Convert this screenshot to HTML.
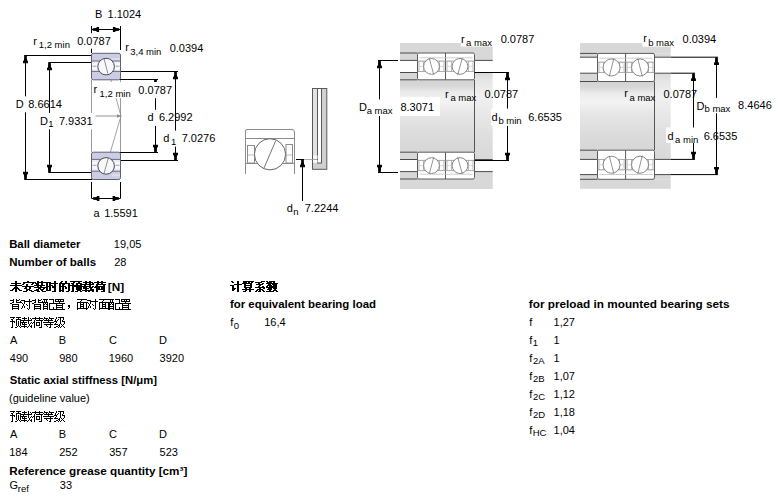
<!DOCTYPE html>
<html><head><meta charset="utf-8"><title>bearing</title>
<style>
html,body{margin:0;padding:0;background:#fff;width:781px;height:502px;overflow:hidden}
svg{display:block;font-family:"Liberation Sans",sans-serif}
</style></head><body>
<svg width="781" height="502" viewBox="0 0 781 502">
<line x1="91.5" y1="26" x2="91.5" y2="53" stroke="#000" stroke-width="1"/>
<line x1="120.5" y1="26" x2="120.5" y2="50" stroke="#000" stroke-width="1"/>
<line x1="91.5" y1="29.5" x2="120.5" y2="29.5" stroke="#000" stroke-width="1"/>
<polygon points="92.80,28.20 92.80,30.80 96.40,31.00 96.70,31.95 99.10,31.95 99.10,27.05 96.70,27.05 96.40,28.00" fill="#000"/>
<polygon points="119.20,28.20 119.20,30.80 115.60,31.00 115.30,31.95 112.90,31.95 112.90,27.05 115.30,27.05 115.60,28.00" fill="#000"/>
<line x1="24.2" y1="55.5" x2="92" y2="55.5" stroke="#000" stroke-width="1"/>
<line x1="24.2" y1="179.5" x2="92" y2="179.5" stroke="#000" stroke-width="1"/>
<line x1="48.3" y1="62.5" x2="92" y2="62.5" stroke="#000" stroke-width="1"/>
<line x1="48.3" y1="172.5" x2="92" y2="172.5" stroke="#000" stroke-width="1"/>
<line x1="120" y1="71.5" x2="178" y2="71.5" stroke="#000" stroke-width="1"/>
<line x1="120" y1="79.5" x2="158" y2="79.5" stroke="#000" stroke-width="1"/>
<line x1="120" y1="152.5" x2="158" y2="152.5" stroke="#000" stroke-width="1"/>
<line x1="120" y1="160.5" x2="178" y2="160.5" stroke="#000" stroke-width="1"/>
<line x1="91.5" y1="80" x2="91.5" y2="152" stroke="#9a9a9a" stroke-width="1"/>
<line x1="120.5" y1="80" x2="120.5" y2="152" stroke="#9a9a9a" stroke-width="1"/>
<line x1="104.5" y1="57" x2="121" y2="116" stroke="#8a8a8a" stroke-width="0.8"/>
<line x1="121" y1="116" x2="103.3" y2="176" stroke="#8a8a8a" stroke-width="0.8"/>
<line x1="95.5" y1="116" x2="120" y2="116" stroke="#8a8a8a" stroke-width="0.9"/>
<polygon points="121.5,116 117,114.3 117,117.7" fill="#8a8a8a"/>
<rect x="91.5" y="53.3" width="29.0" height="26.5" rx="1.8" fill="#cbcee3" stroke="#5e6172" stroke-width="1"/>
<rect x="92.0" y="61.0" width="28.0" height="10.400000000000006" fill="#e9ebf3" stroke="none" stroke-width="1"/>
<rect x="92.0" y="62.7" width="5.5" height="7" fill="#f8f8fb" stroke="none" stroke-width="1"/>
<rect x="114.5" y="62.7" width="5.5" height="7" fill="#f8f8fb" stroke="none" stroke-width="1"/>
<line x1="92.5" y1="66.2" x2="96.5" y2="66.2" stroke="#8a8c9c" stroke-width="0.8"/>
<line x1="115.5" y1="66.2" x2="119.5" y2="66.2" stroke="#8a8c9c" stroke-width="0.8"/>
<rect x="111.5" y="58.099999999999994" width="8.5" height="2.4000000000000057" fill="#dcdeec" stroke="none" stroke-width="1"/>
<line x1="91.5" y1="61.0" x2="120.5" y2="61.0" stroke="#5e6172" stroke-width="0.9"/>
<line x1="91.5" y1="71.4" x2="120.5" y2="71.4" stroke="#5e6172" stroke-width="0.9"/>
<circle cx="106.1" cy="66.6" r="8.3" fill="#f8f8fa" stroke="#4a4a55" stroke-width="1"/>
<line x1="104.1" y1="59.0" x2="107.9" y2="73.5" stroke="#777" stroke-width="0.8"/>
<rect x="91.5" y="152.2" width="29.0" height="27.30000000000001" rx="1.8" fill="#cbcee3" stroke="#5e6172" stroke-width="1"/>
<rect x="92.0" y="159.4" width="28.0" height="11.799999999999983" fill="#e9ebf3" stroke="none" stroke-width="1"/>
<rect x="92.0" y="161.8" width="5.5" height="7" fill="#f8f8fb" stroke="none" stroke-width="1"/>
<rect x="114.5" y="161.8" width="5.5" height="7" fill="#f8f8fb" stroke="none" stroke-width="1"/>
<line x1="92.5" y1="165.3" x2="96.5" y2="165.3" stroke="#8a8c9c" stroke-width="0.8"/>
<line x1="115.5" y1="165.3" x2="119.5" y2="165.3" stroke="#8a8c9c" stroke-width="0.8"/>
<rect x="111.5" y="174.1" width="8.5" height="2.4000000000000057" fill="#dcdeec" stroke="none" stroke-width="1"/>
<line x1="91.5" y1="159.4" x2="120.5" y2="159.4" stroke="#5e6172" stroke-width="0.9"/>
<line x1="91.5" y1="171.2" x2="120.5" y2="171.2" stroke="#5e6172" stroke-width="0.9"/>
<circle cx="106.1" cy="165.9" r="8.3" fill="#f8f8fa" stroke="#4a4a55" stroke-width="1"/>
<line x1="108.3" y1="158.0" x2="104.0" y2="173.5" stroke="#777" stroke-width="0.8"/>
<line x1="25.5" y1="55.5" x2="25.5" y2="179.5" stroke="#000" stroke-width="1"/>
<polygon points="24.20,55.80 26.80,55.80 27.00,60.50 27.95,60.80 27.95,63.20 23.05,63.20 23.05,60.80 24.00,60.50" fill="#000"/>
<polygon points="24.20,179.20 26.80,179.20 27.00,174.50 27.95,174.20 27.95,171.80 23.05,171.80 23.05,174.20 24.00,174.50" fill="#000"/>
<line x1="155.5" y1="79.5" x2="155.5" y2="152.5" stroke="#000" stroke-width="1"/>
<polygon points="154.20,79.80 156.80,79.80 157.00,84.50 157.95,84.80 157.95,87.20 153.05,87.20 153.05,84.80 154.00,84.50" fill="#000"/>
<polygon points="154.20,152.20 156.80,152.20 157.00,147.50 157.95,147.20 157.95,144.80 153.05,144.80 153.05,147.20 154.00,147.50" fill="#000"/>
<rect x="32" y="33.2" width="80" height="15.5" fill="#fff" stroke="none" stroke-width="1"/>
<text x="33.17" y="44.70" font-size="11" fill="#000">r</text>
<text x="38.78" y="47.60" font-size="9.5" fill="#000">1,2 min</text>
<text x="77.17" y="44.60" font-size="11" fill="#000">0.0787</text>
<rect x="15" y="96.3" width="48" height="16" fill="#fff" stroke="none" stroke-width="1"/>
<text x="15.80" y="107.80" font-size="11" fill="#000">D</text>
<text x="28.22" y="107.80" font-size="11" fill="#000">8.6614</text>
<line x1="49.5" y1="62.5" x2="49.5" y2="172.5" stroke="#000" stroke-width="1"/>
<polygon points="48.20,62.80 50.80,62.80 51.00,67.50 51.95,67.80 51.95,70.20 47.05,70.20 47.05,67.80 48.00,67.50" fill="#000"/>
<polygon points="48.20,172.20 50.80,172.20 51.00,167.50 51.95,167.20 51.95,164.80 47.05,164.80 47.05,167.20 48.00,167.50" fill="#000"/>
<rect x="39" y="113" width="54" height="16.3" fill="#fff" stroke="none" stroke-width="1"/>
<text x="40.10" y="124.60" font-size="11" fill="#000">D</text>
<text x="48.28" y="127.40" font-size="9.5" fill="#000">1</text>
<text x="58.94" y="124.60" font-size="11" fill="#000">7.9331</text>
<rect x="93" y="82" width="80" height="16.2" fill="#fff" stroke="none" stroke-width="1"/>
<text x="93.47" y="93.30" font-size="11" fill="#000">r</text>
<text x="99.58" y="96.70" font-size="9.5" fill="#000">1,2 min</text>
<text x="138.37" y="93.70" font-size="11" fill="#000">0.0787</text>
<rect x="146" y="109.8" width="48" height="16.2" fill="#fff" stroke="none" stroke-width="1"/>
<text x="147.54" y="121.40" font-size="11" fill="#000">d</text>
<text x="158.94" y="121.40" font-size="11" fill="#000">6.2992</text>
<line x1="175.5" y1="71.5" x2="175.5" y2="160.5" stroke="#000" stroke-width="1"/>
<polygon points="174.20,71.80 176.80,71.80 177.00,76.50 177.95,76.80 177.95,79.20 173.05,79.20 173.05,76.80 174.00,76.50" fill="#000"/>
<polygon points="174.20,160.20 176.80,160.20 177.00,155.50 177.95,155.20 177.95,152.80 173.05,152.80 173.05,155.20 174.00,155.50" fill="#000"/>
<rect x="162" y="130.6" width="55" height="16" fill="#fff" stroke="none" stroke-width="1"/>
<text x="163.34" y="142.10" font-size="11" fill="#000">d</text>
<text x="170.88" y="145.20" font-size="9.5" fill="#000">1</text>
<text x="181.64" y="142.10" font-size="11" fill="#000">7.0276</text>
<text x="125.17" y="51.10" font-size="11" fill="#000">r</text>
<text x="130.24" y="54.60" font-size="9.5" fill="#000">3,4 min</text>
<text x="169.67" y="51.50" font-size="11" fill="#000">0.0394</text>
<text x="95.10" y="17.80" font-size="11" fill="#000">B</text>
<text x="107.56" y="17.80" font-size="11" fill="#000">1.1024</text>
<line x1="91.5" y1="182" x2="91.5" y2="198.5" stroke="#000" stroke-width="1"/>
<line x1="120.5" y1="182" x2="120.5" y2="198.5" stroke="#000" stroke-width="1"/>
<line x1="91.5" y1="198.5" x2="120.5" y2="198.5" stroke="#000" stroke-width="1"/>
<polygon points="93.10,197.20 93.10,199.80 96.70,200.00 97.00,200.95 99.40,200.95 99.40,196.05 97.00,196.05 96.70,197.00" fill="#000"/>
<polygon points="118.90,197.20 118.90,199.80 115.30,200.00 115.00,200.95 112.60,200.95 112.60,196.05 115.00,196.05 115.30,197.00" fill="#000"/>
<text x="93.53" y="216.70" font-size="11" fill="#000">a</text>
<text x="104.16" y="216.70" font-size="11" fill="#000">1.5591</text>
<path d="M245.5,174 V131 Q245.5,129.5 247,129.5 H292 Q294.5,129.5 294.5,132 V174" fill="none" stroke="#8c8c8c" stroke-width="1"/>
<line x1="245.5" y1="138.5" x2="294.5" y2="138.5" stroke="#8c8c8c" stroke-width="1"/>
<line x1="245.5" y1="163.5" x2="294.5" y2="163.5" stroke="#8c8c8c" stroke-width="1"/>
<rect x="247.5" y="145.5" width="7" height="17.5" fill="none" stroke="#8c8c8c" stroke-width="1"/>
<rect x="286" y="144.5" width="6.5" height="18.5" fill="none" stroke="#8c8c8c" stroke-width="1"/>
<line x1="247.5" y1="155" x2="254.5" y2="155" stroke="#aaa" stroke-width="0.8"/>
<line x1="286" y1="155" x2="292.5" y2="155" stroke="#aaa" stroke-width="0.8"/>
<circle cx="270" cy="154.3" r="15.6" fill="#fff" stroke="#666" stroke-width="1"/>
<line x1="275.8" y1="140.5" x2="264" y2="168" stroke="#666" stroke-width="0.9"/>
<rect x="312.5" y="88.5" width="14.3" height="80.8" fill="#d0d0d0" stroke="#5a5a5a" stroke-width="1"/>
<rect x="313" y="89" width="4.5" height="74" fill="#e2e2e2" stroke="none" stroke-width="1"/>
<rect x="317.5" y="88.5" width="4" height="74.5" fill="#fff" stroke="#5a5a5a" stroke-width="1"/>
<rect x="313" y="155.3" width="4.5" height="3.4" fill="#fbfbfb" stroke="none" stroke-width="1"/>
<rect x="313" y="159.8" width="4.5" height="2.8" fill="#fbfbfb" stroke="none" stroke-width="1"/>
<line x1="296" y1="159.5" x2="304" y2="159.5" stroke="#000" stroke-width="1"/>
<line x1="304" y1="159.5" x2="317" y2="159.5" stroke="#999" stroke-width="0.8"/>
<line x1="302.5" y1="159.5" x2="302.5" y2="201" stroke="#000" stroke-width="1"/>
<polygon points="301.20,159.80 303.80,159.80 304.00,164.50 304.95,164.80 304.95,167.20 300.05,167.20 300.05,164.80 301.00,164.50" fill="#000"/>
<text x="286.84" y="212.40" font-size="11" fill="#000">d</text>
<text x="293.17" y="215.30" font-size="9.5" fill="#000">n</text>
<text x="304.74" y="212.40" font-size="11" fill="#000">7.2244</text>
<defs>
<linearGradient id="shaft" x1="0" y1="0" x2="0" y2="1">
<stop offset="0" stop-color="#d3d3d3"/><stop offset="0.09" stop-color="#d8d8d8"/>
<stop offset="0.17" stop-color="#ebebeb"/><stop offset="0.3" stop-color="#f3f3f3"/>
<stop offset="0.48" stop-color="#e6e6e6"/><stop offset="0.75" stop-color="#dcdcdc"/><stop offset="1" stop-color="#d6d6d6"/>
</linearGradient>
<linearGradient id="shoulder" x1="0" y1="0" x2="0" y2="1">
<stop offset="0" stop-color="#dadada"/><stop offset="0.1" stop-color="#e6e6e6"/>
<stop offset="0.27" stop-color="#f1f1f1"/><stop offset="0.45" stop-color="#e9e9e9"/>
<stop offset="0.7" stop-color="#dfdfdf"/><stop offset="1" stop-color="#d8d8d8"/>
</linearGradient>
</defs>
<rect x="400" y="43" width="92.7" height="10" fill="#d9d8d9" stroke="none" stroke-width="1"/>
<rect x="400" y="179" width="92.7" height="10" fill="#d9d8d9" stroke="none" stroke-width="1"/>
<rect x="400" y="53" width="17.9" height="7.4" fill="#d9d8d9" stroke="none" stroke-width="1"/>
<rect x="400" y="171.6" width="17.9" height="7.4" fill="#d9d8d9" stroke="none" stroke-width="1"/>
<rect x="400" y="72.5" width="17.9" height="7.3" fill="#d9d8d9" stroke="none" stroke-width="1"/>
<rect x="400" y="152.2" width="17.9" height="7.3" fill="#d9d8d9" stroke="none" stroke-width="1"/>
<rect x="474.5" y="53" width="18.2" height="7.4" fill="#d9d8d9" stroke="none" stroke-width="1"/>
<rect x="474.5" y="171.6" width="18.2" height="7.4" fill="#d9d8d9" stroke="none" stroke-width="1"/>
<rect x="400" y="79.8" width="74.5" height="72.4" fill="url(#shaft)" stroke="none" stroke-width="1"/>
<rect x="474.5" y="72.5" width="18.2" height="87" fill="url(#shoulder)" stroke="none" stroke-width="1"/>
<line x1="400" y1="53" x2="417.5" y2="53" stroke="#4a4a4a" stroke-width="1"/>
<line x1="400" y1="179.0" x2="417.5" y2="179.0" stroke="#4a4a4a" stroke-width="1"/>
<line x1="400" y1="60.4" x2="417.5" y2="60.4" stroke="#4a4a4a" stroke-width="1"/>
<line x1="400" y1="171.6" x2="417.5" y2="171.6" stroke="#4a4a4a" stroke-width="1"/>
<line x1="400" y1="72.5" x2="417.5" y2="72.5" stroke="#4a4a4a" stroke-width="1"/>
<line x1="400" y1="159.5" x2="417.5" y2="159.5" stroke="#4a4a4a" stroke-width="1"/>
<line x1="400" y1="79.8" x2="417.5" y2="79.8" stroke="#4a4a4a" stroke-width="1"/>
<line x1="400" y1="152.2" x2="417.5" y2="152.2" stroke="#4a4a4a" stroke-width="1"/>
<line x1="474.5" y1="60.4" x2="492.7" y2="60.4" stroke="#4a4a4a" stroke-width="1"/>
<line x1="474.5" y1="171.6" x2="492.7" y2="171.6" stroke="#4a4a4a" stroke-width="1"/>
<line x1="474.5" y1="72.5" x2="492.7" y2="72.5" stroke="#4a4a4a" stroke-width="1"/>
<line x1="474.5" y1="159.5" x2="492.7" y2="159.5" stroke="#4a4a4a" stroke-width="1"/>
<line x1="474.5" y1="79.8" x2="474.5" y2="152.2" stroke="#555" stroke-width="1"/>
<rect x="417.5" y="53" width="57.0" height="26.799999999999997" rx="1.5" fill="#fff" stroke="#5a5a5a" stroke-width="1"/>
<line x1="445.5" y1="53" x2="445.5" y2="79.8" stroke="#5a5a5a" stroke-width="1"/>
<line x1="419.5" y1="57.8" x2="472.5" y2="57.8" stroke="#c4c4c4" stroke-width="0.8"/>
<line x1="417.5" y1="61.2" x2="474.5" y2="61.2" stroke="#9a9a9a" stroke-width="0.9"/>
<line x1="417.5" y1="71.4" x2="474.5" y2="71.4" stroke="#9a9a9a" stroke-width="0.9"/>
<rect x="419.0" y="61.2" width="4.5" height="10.200000000000003" fill="#fff" stroke="#a8a8a8" stroke-width="0.8"/>
<line x1="419.0" y1="66.4" x2="423.5" y2="66.4" stroke="#c8c8c8" stroke-width="0.7"/>
<rect x="439.5" y="61.2" width="4.5" height="10.200000000000003" fill="#fff" stroke="#a8a8a8" stroke-width="0.8"/>
<line x1="439.5" y1="66.4" x2="444.0" y2="66.4" stroke="#c8c8c8" stroke-width="0.7"/>
<circle cx="431.50" cy="66.40" r="7.9" fill="#fff" stroke="#7a7a7a" stroke-width="0.9"/>
<line x1="429.2" y1="58.00000000000001" x2="433.8" y2="74.80000000000001" stroke="#7a7a7a" stroke-width="0.8"/>
<rect x="447.0" y="61.2" width="4.5" height="10.200000000000003" fill="#fff" stroke="#a8a8a8" stroke-width="0.8"/>
<line x1="447.0" y1="66.4" x2="451.5" y2="66.4" stroke="#c8c8c8" stroke-width="0.7"/>
<rect x="468.5" y="61.2" width="4.5" height="10.200000000000003" fill="#fff" stroke="#a8a8a8" stroke-width="0.8"/>
<line x1="468.5" y1="66.4" x2="473.0" y2="66.4" stroke="#c8c8c8" stroke-width="0.7"/>
<circle cx="460.00" cy="66.40" r="7.9" fill="#fff" stroke="#7a7a7a" stroke-width="0.9"/>
<line x1="462.3" y1="58.00000000000001" x2="457.7" y2="74.80000000000001" stroke="#7a7a7a" stroke-width="0.8"/>
<rect x="417.5" y="152.2" width="57.0" height="26.80000000000001" rx="1.5" fill="#fff" stroke="#5a5a5a" stroke-width="1"/>
<line x1="445.5" y1="152.2" x2="445.5" y2="179" stroke="#5a5a5a" stroke-width="1"/>
<line x1="419.5" y1="174.2" x2="472.5" y2="174.2" stroke="#c4c4c4" stroke-width="0.8"/>
<line x1="417.5" y1="160.4" x2="474.5" y2="160.4" stroke="#9a9a9a" stroke-width="0.9"/>
<line x1="417.5" y1="170.6" x2="474.5" y2="170.6" stroke="#9a9a9a" stroke-width="0.9"/>
<rect x="419.0" y="160.4" width="4.5" height="10.199999999999989" fill="#fff" stroke="#a8a8a8" stroke-width="0.8"/>
<line x1="419.0" y1="165.6" x2="423.5" y2="165.6" stroke="#c8c8c8" stroke-width="0.7"/>
<rect x="439.5" y="160.4" width="4.5" height="10.199999999999989" fill="#fff" stroke="#a8a8a8" stroke-width="0.8"/>
<line x1="439.5" y1="165.6" x2="444.0" y2="165.6" stroke="#c8c8c8" stroke-width="0.7"/>
<circle cx="431.50" cy="165.60" r="7.9" fill="#fff" stroke="#7a7a7a" stroke-width="0.9"/>
<line x1="433.8" y1="157.2" x2="429.2" y2="174.0" stroke="#7a7a7a" stroke-width="0.8"/>
<rect x="447.0" y="160.4" width="4.5" height="10.199999999999989" fill="#fff" stroke="#a8a8a8" stroke-width="0.8"/>
<line x1="447.0" y1="165.6" x2="451.5" y2="165.6" stroke="#c8c8c8" stroke-width="0.7"/>
<rect x="468.5" y="160.4" width="4.5" height="10.199999999999989" fill="#fff" stroke="#a8a8a8" stroke-width="0.8"/>
<line x1="468.5" y1="165.6" x2="473.0" y2="165.6" stroke="#c8c8c8" stroke-width="0.7"/>
<circle cx="460.00" cy="165.60" r="7.9" fill="#fff" stroke="#7a7a7a" stroke-width="0.9"/>
<line x1="457.7" y1="157.2" x2="462.3" y2="174.0" stroke="#7a7a7a" stroke-width="0.8"/>
<line x1="378" y1="60.5" x2="398" y2="60.5" stroke="#000" stroke-width="1"/>
<line x1="378" y1="172.5" x2="398" y2="172.5" stroke="#000" stroke-width="1"/>
<line x1="379.5" y1="60.5" x2="379.5" y2="172.5" stroke="#000" stroke-width="1"/>
<polygon points="378.20,60.80 380.80,60.80 381.00,65.50 381.95,65.80 381.95,68.20 377.05,68.20 377.05,65.80 378.00,65.50" fill="#000"/>
<polygon points="378.20,172.20 380.80,172.20 381.00,167.50 381.95,167.20 381.95,164.80 377.05,164.80 377.05,167.20 378.00,167.50" fill="#000"/>
<rect x="356" y="99.4" width="44" height="16.6" fill="#fff" stroke="none" stroke-width="1"/>
<rect x="400" y="97" width="40" height="19" fill="#fff" stroke="none" stroke-width="1"/>
<text x="358.90" y="111.10" font-size="11" fill="#000">D</text>
<text x="366.70" y="114.40" font-size="9.5" fill="#000">a max</text>
<text x="400.42" y="111.10" font-size="11" fill="#000">8.3071</text>
<line x1="474.5" y1="72.5" x2="509" y2="72.5" stroke="#000" stroke-width="1"/>
<line x1="474.5" y1="160.5" x2="509" y2="160.5" stroke="#000" stroke-width="1"/>
<text x="445.07" y="97.50" font-size="11" fill="#000">r</text>
<text x="450.40" y="100.80" font-size="9.5" fill="#000">a max</text>
<text x="484.57" y="97.80" font-size="11" fill="#000">0.0787</text>
<line x1="507.5" y1="72.5" x2="507.5" y2="160.5" stroke="#000" stroke-width="1"/>
<polygon points="506.20,72.80 508.80,72.80 509.00,77.50 509.95,77.80 509.95,80.20 505.05,80.20 505.05,77.80 506.00,77.50" fill="#000"/>
<polygon points="506.20,160.20 508.80,160.20 509.00,155.50 509.95,155.20 509.95,152.80 505.05,152.80 505.05,155.20 506.00,155.50" fill="#000"/>
<rect x="491" y="108.6" width="75" height="17.3" fill="#fff" stroke="none" stroke-width="1"/>
<text x="491.44" y="120.50" font-size="11" fill="#000">d</text>
<text x="498.39" y="123.60" font-size="9.5" fill="#000">b min</text>
<text x="528.24" y="120.70" font-size="11" fill="#000">6.6535</text>
<rect x="460.8" y="32" width="31.9" height="14.5" fill="#fff" stroke="none" stroke-width="1"/>
<text x="460.97" y="42.70" font-size="11" fill="#000">r</text>
<text x="466.10" y="45.50" font-size="9.5" fill="#000">a max</text>
<text x="500.67" y="43.00" font-size="11" fill="#000">0.0787</text>
<rect x="580" y="43.1" width="90.7" height="10.3" fill="#d9d8d9" stroke="none" stroke-width="1"/>
<rect x="580" y="179.3" width="90.7" height="9.5" fill="#d9d8d9" stroke="none" stroke-width="1"/>
<rect x="580" y="53.4" width="17.5" height="3.8" fill="#d9d8d9" stroke="none" stroke-width="1"/>
<rect x="580" y="174.6" width="17.5" height="4.7" fill="#d9d8d9" stroke="none" stroke-width="1"/>
<rect x="580" y="73.2" width="17.5" height="8.3" fill="#d9d8d9" stroke="none" stroke-width="1"/>
<rect x="580" y="150.2" width="17.5" height="9.2" fill="#d9d8d9" stroke="none" stroke-width="1"/>
<rect x="654.5" y="53.4" width="16.2" height="3.8" fill="#d9d8d9" stroke="none" stroke-width="1"/>
<rect x="654.5" y="174.6" width="16.2" height="4.7" fill="#d9d8d9" stroke="none" stroke-width="1"/>
<rect x="580" y="81.5" width="74.5" height="68.69999999999999" fill="url(#shaft)" stroke="none" stroke-width="1"/>
<rect x="654.5" y="73.2" width="16.2" height="86.2" fill="url(#shoulder)" stroke="none" stroke-width="1"/>
<line x1="580" y1="53.4" x2="597.5" y2="53.4" stroke="#4a4a4a" stroke-width="1"/>
<line x1="580" y1="179.3" x2="597.5" y2="179.3" stroke="#4a4a4a" stroke-width="1"/>
<line x1="580" y1="57.2" x2="597.5" y2="57.2" stroke="#4a4a4a" stroke-width="1"/>
<line x1="580" y1="174.6" x2="597.5" y2="174.6" stroke="#4a4a4a" stroke-width="1"/>
<line x1="580" y1="73.2" x2="597.5" y2="73.2" stroke="#4a4a4a" stroke-width="1"/>
<line x1="580" y1="159.4" x2="597.5" y2="159.4" stroke="#4a4a4a" stroke-width="1"/>
<line x1="580" y1="81.5" x2="597.5" y2="81.5" stroke="#4a4a4a" stroke-width="1"/>
<line x1="580" y1="150.2" x2="597.5" y2="150.2" stroke="#4a4a4a" stroke-width="1"/>
<line x1="654.5" y1="57.2" x2="670.7" y2="57.2" stroke="#4a4a4a" stroke-width="1"/>
<line x1="654.5" y1="174.6" x2="670.7" y2="174.6" stroke="#4a4a4a" stroke-width="1"/>
<line x1="654.5" y1="73.2" x2="670.7" y2="73.2" stroke="#4a4a4a" stroke-width="1"/>
<line x1="654.5" y1="159.4" x2="670.7" y2="159.4" stroke="#4a4a4a" stroke-width="1"/>
<line x1="654.5" y1="81.5" x2="654.5" y2="150.2" stroke="#555" stroke-width="1"/>
<rect x="597.5" y="53.4" width="57.0" height="28.1" rx="1.5" fill="#fff" stroke="#5a5a5a" stroke-width="1"/>
<line x1="625.6" y1="53.4" x2="625.6" y2="81.5" stroke="#5a5a5a" stroke-width="1"/>
<line x1="599.5" y1="58.199999999999996" x2="652.5" y2="58.199999999999996" stroke="#c4c4c4" stroke-width="0.8"/>
<line x1="597.5" y1="62.25" x2="654.5" y2="62.25" stroke="#9a9a9a" stroke-width="0.9"/>
<line x1="597.5" y1="72.45" x2="654.5" y2="72.45" stroke="#9a9a9a" stroke-width="0.9"/>
<rect x="599.0" y="62.25" width="4.5" height="10.200000000000003" fill="#fff" stroke="#a8a8a8" stroke-width="0.8"/>
<line x1="599.0" y1="67.45" x2="603.5" y2="67.45" stroke="#c8c8c8" stroke-width="0.7"/>
<rect x="619.6" y="62.25" width="4.5" height="10.200000000000003" fill="#fff" stroke="#a8a8a8" stroke-width="0.8"/>
<line x1="619.6" y1="67.45" x2="624.1" y2="67.45" stroke="#c8c8c8" stroke-width="0.7"/>
<circle cx="611.55" cy="67.45" r="8.5" fill="#fff" stroke="#7a7a7a" stroke-width="0.9"/>
<line x1="613.8499999999999" y1="58.45" x2="609.25" y2="76.45" stroke="#7a7a7a" stroke-width="0.8"/>
<rect x="627.1" y="62.25" width="4.5" height="10.200000000000003" fill="#fff" stroke="#a8a8a8" stroke-width="0.8"/>
<line x1="627.1" y1="67.45" x2="631.6" y2="67.45" stroke="#c8c8c8" stroke-width="0.7"/>
<rect x="648.5" y="62.25" width="4.5" height="10.200000000000003" fill="#fff" stroke="#a8a8a8" stroke-width="0.8"/>
<line x1="648.5" y1="67.45" x2="653.0" y2="67.45" stroke="#c8c8c8" stroke-width="0.7"/>
<circle cx="640.05" cy="67.45" r="8.5" fill="#fff" stroke="#7a7a7a" stroke-width="0.9"/>
<line x1="637.75" y1="58.45" x2="642.3499999999999" y2="76.45" stroke="#7a7a7a" stroke-width="0.8"/>
<rect x="597.5" y="150.2" width="57.0" height="29.100000000000023" rx="1.5" fill="#fff" stroke="#5a5a5a" stroke-width="1"/>
<line x1="625.6" y1="150.2" x2="625.6" y2="179.3" stroke="#5a5a5a" stroke-width="1"/>
<line x1="599.5" y1="174.5" x2="652.5" y2="174.5" stroke="#c4c4c4" stroke-width="0.8"/>
<line x1="597.5" y1="159.55" x2="654.5" y2="159.55" stroke="#9a9a9a" stroke-width="0.9"/>
<line x1="597.5" y1="169.75" x2="654.5" y2="169.75" stroke="#9a9a9a" stroke-width="0.9"/>
<rect x="599.0" y="159.55" width="4.5" height="10.199999999999989" fill="#fff" stroke="#a8a8a8" stroke-width="0.8"/>
<line x1="599.0" y1="164.75" x2="603.5" y2="164.75" stroke="#c8c8c8" stroke-width="0.7"/>
<rect x="619.6" y="159.55" width="4.5" height="10.199999999999989" fill="#fff" stroke="#a8a8a8" stroke-width="0.8"/>
<line x1="619.6" y1="164.75" x2="624.1" y2="164.75" stroke="#c8c8c8" stroke-width="0.7"/>
<circle cx="611.55" cy="164.75" r="8.5" fill="#fff" stroke="#7a7a7a" stroke-width="0.9"/>
<line x1="609.25" y1="155.75" x2="613.8499999999999" y2="173.75" stroke="#7a7a7a" stroke-width="0.8"/>
<rect x="627.1" y="159.55" width="4.5" height="10.199999999999989" fill="#fff" stroke="#a8a8a8" stroke-width="0.8"/>
<line x1="627.1" y1="164.75" x2="631.6" y2="164.75" stroke="#c8c8c8" stroke-width="0.7"/>
<rect x="648.5" y="159.55" width="4.5" height="10.199999999999989" fill="#fff" stroke="#a8a8a8" stroke-width="0.8"/>
<line x1="648.5" y1="164.75" x2="653.0" y2="164.75" stroke="#c8c8c8" stroke-width="0.7"/>
<circle cx="640.05" cy="164.75" r="8.5" fill="#fff" stroke="#7a7a7a" stroke-width="0.9"/>
<line x1="642.3499999999999" y1="155.75" x2="637.75" y2="173.75" stroke="#7a7a7a" stroke-width="0.8"/>
<line x1="670.7" y1="57.2" x2="718" y2="57.2" stroke="#000" stroke-width="1"/>
<line x1="670.7" y1="174.6" x2="718" y2="174.6" stroke="#000" stroke-width="1"/>
<line x1="670.7" y1="73.2" x2="695" y2="73.2" stroke="#000" stroke-width="1"/>
<line x1="670.7" y1="159.4" x2="695" y2="159.4" stroke="#000" stroke-width="1"/>
<line x1="693.5" y1="73.2" x2="693.5" y2="159.4" stroke="#000" stroke-width="1"/>
<polygon points="692.20,73.50 694.80,73.50 695.00,78.20 695.95,78.50 695.95,80.90 691.05,80.90 691.05,78.50 692.00,78.20" fill="#000"/>
<polygon points="692.20,159.10 694.80,159.10 695.00,154.40 695.95,154.10 695.95,151.70 691.05,151.70 691.05,154.10 692.00,154.40" fill="#000"/>
<text x="624.27" y="97.00" font-size="11" fill="#000">r</text>
<text x="629.50" y="100.60" font-size="9.5" fill="#000">a max</text>
<text x="663.47" y="97.60" font-size="11" fill="#000">0.0787</text>
<line x1="716.5" y1="57.2" x2="716.5" y2="174.6" stroke="#000" stroke-width="1"/>
<polygon points="715.20,57.50 717.80,57.50 718.00,62.20 718.95,62.50 718.95,64.90 714.05,64.90 714.05,62.50 715.00,62.20" fill="#000"/>
<polygon points="715.20,174.30 717.80,174.30 718.00,169.60 718.95,169.30 718.95,166.90 714.05,166.90 714.05,169.30 715.00,169.60" fill="#000"/>
<rect x="696" y="97.9" width="78" height="15.3" fill="#fff" stroke="none" stroke-width="1"/>
<text x="696.50" y="109.60" font-size="11" fill="#000">D</text>
<text x="704.49" y="112.30" font-size="9.5" fill="#000">b max</text>
<text x="738.12" y="109.30" font-size="11" fill="#000">8.4646</text>
<rect x="666" y="127.5" width="35" height="15.5" fill="#fff" stroke="none" stroke-width="1"/>
<text x="667.54" y="139.70" font-size="11" fill="#000">d</text>
<text x="675.10" y="142.80" font-size="9.5" fill="#000">a min</text>
<text x="703.64" y="139.70" font-size="11" fill="#000">6.6535</text>
<rect x="642.3" y="40" width="28.5" height="6.6" fill="#fff" stroke="none" stroke-width="1"/>
<text x="643.27" y="42.40" font-size="11" fill="#000">r</text>
<text x="648.19" y="45.60" font-size="9.5" fill="#000">b max</text>
<text x="682.57" y="42.70" font-size="11" fill="#000">0.0394</text>
<text x="9.16" y="247.80" font-size="11" font-weight="bold" textLength="71.30" lengthAdjust="spacingAndGlyphs" fill="#000">Ball diameter</text>
<text x="113.86" y="247.80" font-size="11" fill="#000">19,05</text>
<text x="9.16" y="265.70" font-size="11" font-weight="bold" textLength="86.89" lengthAdjust="spacingAndGlyphs" fill="#000">Number of balls</text>
<text x="114.15" y="265.70" font-size="11" fill="#000">28</text>
<text x="107.78" y="290.50" font-size="11" font-weight="bold" textLength="16.34" lengthAdjust="spacingAndGlyphs" fill="#000">[N]</text>
<text x="10.08" y="344.10" font-size="11" fill="#000">A</text>
<text x="58.80" y="344.10" font-size="11" fill="#000">B</text>
<text x="109.04" y="344.10" font-size="11" fill="#000">C</text>
<text x="159.10" y="344.10" font-size="11" fill="#000">D</text>
<text x="9.85" y="361.50" font-size="11" fill="#000">490</text>
<text x="59.18" y="361.50" font-size="11" fill="#000">980</text>
<text x="108.76" y="361.50" font-size="11" fill="#000">1960</text>
<text x="159.58" y="361.50" font-size="11" fill="#000">3920</text>
<text x="9.68" y="384.30" font-size="11" font-weight="bold" textLength="147.33" lengthAdjust="spacingAndGlyphs" fill="#000">Static axial stiffness [N/&#956;m]</text>
<text x="9.02" y="401.50" font-size="11" fill="#000">(guideline value)</text>
<text x="10.08" y="438.10" font-size="11" fill="#000">A</text>
<text x="58.80" y="438.10" font-size="11" fill="#000">B</text>
<text x="109.04" y="438.10" font-size="11" fill="#000">C</text>
<text x="159.10" y="438.10" font-size="11" fill="#000">D</text>
<text x="9.26" y="455.70" font-size="11" fill="#000">184</text>
<text x="59.15" y="455.70" font-size="11" fill="#000">252</text>
<text x="109.18" y="455.70" font-size="11" fill="#000">357</text>
<text x="159.56" y="455.70" font-size="11" fill="#000">523</text>
<text x="9.26" y="474.90" font-size="11" font-weight="bold" textLength="178.05" lengthAdjust="spacingAndGlyphs" fill="#000">Reference grease quantity [cm&#179;]</text>
<text x="9.45" y="489.00" font-size="11" fill="#000">G</text>
<text x="17.87" y="491.60" font-size="9.5" fill="#000">ref</text>
<text x="59.78" y="489.00" font-size="11" fill="#000">33</text>
<text x="229.91" y="307.80" font-size="11" font-weight="bold" textLength="146.11" lengthAdjust="spacingAndGlyphs" fill="#000">for equivalent bearing load</text>
<text x="230.34" y="326.20" font-size="11" fill="#000">f</text>
<text x="233.83" y="328.90" font-size="9.5" fill="#000">0</text>
<text x="264.16" y="326.20" font-size="11" fill="#000">16,4</text>
<text x="528.81" y="307.60" font-size="11" font-weight="bold" textLength="200.74" lengthAdjust="spacingAndGlyphs" fill="#000">for preload in mounted bearing sets</text>
<text x="529.34" y="325.60" font-size="11" fill="#000">f</text>
<text x="553.56" y="325.60" font-size="11" fill="#000">1,27</text>
<text x="529.34" y="343.60" font-size="11" fill="#000">f</text>
<text x="532.78" y="346.40" font-size="9.5" fill="#000">1</text>
<text x="553.56" y="343.60" font-size="11" fill="#000">1</text>
<text x="529.34" y="361.60" font-size="11" fill="#000">f</text>
<text x="533.02" y="364.40" font-size="9.5" fill="#000">2A</text>
<text x="553.56" y="361.60" font-size="11" fill="#000">1</text>
<text x="529.34" y="379.60" font-size="11" fill="#000">f</text>
<text x="533.02" y="382.40" font-size="9.5" fill="#000">2B</text>
<text x="553.56" y="379.60" font-size="11" fill="#000">1,07</text>
<text x="529.34" y="397.60" font-size="11" fill="#000">f</text>
<text x="533.02" y="400.40" font-size="9.5" fill="#000">2C</text>
<text x="553.56" y="397.60" font-size="11" fill="#000">1,12</text>
<text x="529.34" y="415.60" font-size="11" fill="#000">f</text>
<text x="533.02" y="418.40" font-size="9.5" fill="#000">2D</text>
<text x="553.56" y="415.60" font-size="11" fill="#000">1,18</text>
<text x="529.34" y="433.60" font-size="11" fill="#000">f</text>
<text x="532.72" y="436.40" font-size="9.5" fill="#000">HC</text>
<text x="553.56" y="433.60" font-size="11" fill="#000">1,04</text>
<path d="M15 281h2v1h-2zM15 282h2v1h-2zM11 283h10v1h-10zM15 284h2v1h-2zM10 285h12v1h-12zM15 286h2v1h-2zM14 287h4v1h-4zM13 288h6v1h-6zM12 289h2v1h-2zM15 289h2v1h-2zM18 289h2v1h-2zM10 290h3v1h-3zM15 290h2v1h-2zM19 290h3v1h-3zM15 291h2v1h-2zM27 281h2v1h-2zM23 282h11v1h-11zM23 283h2v1h-2zM32 283h2v1h-2zM22 284h2v1h-2zM26 284h2v1h-2zM31 284h2v1h-2zM26 285h2v1h-2zM22 286h12v1h-12zM25 287h2v1h-2zM29 287h2v1h-2zM24 288h3v1h-3zM29 288h2v1h-2zM26 289h4v1h-4zM26 290h2v1h-2zM29 290h3v1h-3zM23 291h4v1h-4zM31 291h3v1h-3zM37 281h2v1h-2zM41 281h2v1h-2zM34 282h2v1h-2zM37 282h9v1h-9zM35 283h4v1h-4zM41 283h2v1h-2zM36 284h3v1h-3zM41 284h2v1h-2zM34 285h11v1h-11zM37 286h2v1h-2zM40 286h2v1h-2zM34 287h12v1h-12zM38 288h3v1h-3zM43 288h2v1h-2zM36 289h3v1h-3zM40 289h4v1h-4zM34 290h5v1h-5zM41 290h2v1h-2zM37 291h3v1h-3zM42 291h4v1h-4zM54 281h2v1h-2zM46 282h5v1h-5zM54 282h2v1h-2zM46 283h2v1h-2zM49 283h9v1h-9zM46 284h2v1h-2zM49 284h2v1h-2zM54 284h2v1h-2zM46 285h2v1h-2zM49 285h4v1h-4zM54 285h2v1h-2zM46 286h5v1h-5zM52 286h4v1h-4zM46 287h2v1h-2zM49 287h2v1h-2zM52 287h4v1h-4zM46 288h2v1h-2zM49 288h2v1h-2zM54 288h2v1h-2zM46 289h2v1h-2zM49 289h2v1h-2zM54 289h2v1h-2zM46 290h5v1h-5zM54 290h2v1h-2zM52 291h4v1h-4zM61 281h2v1h-2zM65 281h2v1h-2zM60 282h2v1h-2zM65 282h2v1h-2zM59 283h11v1h-11zM59 284h2v1h-2zM62 284h3v1h-3zM68 284h2v1h-2zM59 285h2v1h-2zM62 285h2v1h-2zM68 285h2v1h-2zM59 286h7v1h-7zM68 286h2v1h-2zM59 287h2v1h-2zM62 287h2v1h-2zM65 287h2v1h-2zM68 287h2v1h-2zM59 288h2v1h-2zM62 288h2v1h-2zM65 288h2v1h-2zM68 288h2v1h-2zM59 289h2v1h-2zM62 289h2v1h-2zM68 289h2v1h-2zM59 290h5v1h-5zM68 290h2v1h-2zM59 291h2v1h-2zM62 291h2v1h-2zM66 291h3v1h-3zM70 281h12v1h-12zM73 282h2v1h-2zM78 282h2v1h-2zM71 283h3v1h-3zM76 283h6v1h-6zM72 284h2v1h-2zM76 284h2v1h-2zM80 284h2v1h-2zM70 285h12v1h-12zM72 286h10v1h-10zM72 287h2v1h-2zM76 287h6v1h-6zM72 288h2v1h-2zM76 288h6v1h-6zM72 289h2v1h-2zM76 289h6v1h-6zM72 290h2v1h-2zM77 290h4v1h-4zM71 291h3v1h-3zM75 291h3v1h-3zM80 291h2v1h-2zM85 281h2v1h-2zM89 281h2v1h-2zM83 282h10v1h-10zM85 283h2v1h-2zM89 283h2v1h-2zM92 283h2v1h-2zM82 284h12v1h-12zM84 285h2v1h-2zM89 285h2v1h-2zM82 286h9v1h-9zM92 286h2v1h-2zM83 287h4v1h-4zM89 287h4v1h-4zM83 288h6v1h-6zM90 288h2v1h-2zM85 289h2v1h-2zM90 289h4v1h-4zM82 290h12v1h-12zM85 291h2v1h-2zM88 291h2v1h-2zM92 291h2v1h-2zM97 281h2v1h-2zM101 281h2v1h-2zM94 282h12v1h-12zM97 283h2v1h-2zM101 283h2v1h-2zM96 284h10v1h-10zM96 285h2v1h-2zM103 285h2v1h-2zM95 286h10v1h-10zM94 287h6v1h-6zM101 287h4v1h-4zM96 288h4v1h-4zM101 288h4v1h-4zM96 289h9v1h-9zM96 290h2v1h-2zM103 290h2v1h-2zM96 291h2v1h-2zM101 291h4v1h-4z" fill="#000" shape-rendering="crispEdges"/>
<path d="M13 299h1v1h-1zM16 299h1v1h-1zM19 299h1v1h-1zM10 300h4v1h-4zM16 300h3v1h-3zM13 301h1v1h-1zM16 301h1v1h-1zM20 301h1v1h-1zM12 302h2v1h-2zM16 302h5v1h-5zM10 303h2v1h-2zM12 304h7v1h-7zM12 305h1v1h-1zM18 305h1v1h-1zM12 306h7v1h-7zM12 307h1v1h-1zM18 307h1v1h-1zM12 308h7v1h-7zM12 309h1v1h-1zM18 309h1v1h-1zM29 299h1v1h-1zM21 300h4v1h-4zM29 300h1v1h-1zM24 301h8v1h-8zM21 302h1v1h-1zM24 302h1v1h-1zM29 302h1v1h-1zM22 303h1v1h-1zM24 303h1v1h-1zM29 303h1v1h-1zM23 304h1v1h-1zM26 304h1v1h-1zM29 304h1v1h-1zM23 305h1v1h-1zM27 305h1v1h-1zM29 305h1v1h-1zM22 306h1v1h-1zM24 306h1v1h-1zM29 306h1v1h-1zM22 307h1v1h-1zM24 307h1v1h-1zM29 307h1v1h-1zM21 308h1v1h-1zM27 308h1v1h-1zM29 308h1v1h-1zM28 309h1v1h-1zM35 299h1v1h-1zM38 299h1v1h-1zM41 299h1v1h-1zM32 300h4v1h-4zM38 300h3v1h-3zM35 301h1v1h-1zM38 301h1v1h-1zM42 301h1v1h-1zM34 302h2v1h-2zM38 302h5v1h-5zM32 303h2v1h-2zM34 304h7v1h-7zM34 305h1v1h-1zM40 305h1v1h-1zM34 306h7v1h-7zM34 307h1v1h-1zM40 307h1v1h-1zM34 308h7v1h-7zM34 309h1v1h-1zM40 309h1v1h-1zM43 299h5v1h-5zM49 299h5v1h-5zM44 300h1v1h-1zM46 300h1v1h-1zM53 300h1v1h-1zM44 301h1v1h-1zM46 301h1v1h-1zM53 301h1v1h-1zM43 302h5v1h-5zM53 302h1v1h-1zM43 303h1v1h-1zM45 303h1v1h-1zM47 303h1v1h-1zM49 303h5v1h-5zM43 304h2v1h-2zM46 304h2v1h-2zM49 304h1v1h-1zM43 305h1v1h-1zM47 305h1v1h-1zM49 305h1v1h-1zM43 306h5v1h-5zM49 306h1v1h-1zM43 307h1v1h-1zM47 307h1v1h-1zM49 307h1v1h-1zM53 307h1v1h-1zM43 308h5v1h-5zM49 308h1v1h-1zM53 308h1v1h-1zM43 309h1v1h-1zM47 309h1v1h-1zM49 309h5v1h-5zM55 299h9v1h-9zM55 300h1v1h-1zM58 300h1v1h-1zM60 300h1v1h-1zM63 300h1v1h-1zM55 301h9v1h-9zM59 302h1v1h-1zM54 303h11v1h-11zM56 304h1v1h-1zM62 304h1v1h-1zM56 305h7v1h-7zM56 306h1v1h-1zM62 306h1v1h-1zM56 307h7v1h-7zM56 308h1v1h-1zM62 308h1v1h-1zM54 309h11v1h-11zM68 305h2v1h-2zM68 306h2v1h-2zM69 307h1v1h-1zM68 308h1v1h-1zM77 299h10v1h-10zM81 300h1v1h-1zM80 301h1v1h-1zM77 302h10v1h-10zM77 303h1v1h-1zM80 303h1v1h-1zM83 303h1v1h-1zM86 303h1v1h-1zM77 304h1v1h-1zM80 304h4v1h-4zM86 304h1v1h-1zM77 305h1v1h-1zM80 305h1v1h-1zM83 305h1v1h-1zM86 305h1v1h-1zM77 306h1v1h-1zM80 306h4v1h-4zM86 306h1v1h-1zM77 307h1v1h-1zM80 307h1v1h-1zM83 307h1v1h-1zM86 307h1v1h-1zM77 308h10v1h-10zM77 309h1v1h-1zM86 309h1v1h-1zM95 299h1v1h-1zM87 300h4v1h-4zM95 300h1v1h-1zM90 301h8v1h-8zM87 302h1v1h-1zM90 302h1v1h-1zM95 302h1v1h-1zM88 303h1v1h-1zM90 303h1v1h-1zM95 303h1v1h-1zM89 304h1v1h-1zM92 304h1v1h-1zM95 304h1v1h-1zM89 305h1v1h-1zM93 305h1v1h-1zM95 305h1v1h-1zM88 306h1v1h-1zM90 306h1v1h-1zM95 306h1v1h-1zM88 307h1v1h-1zM90 307h1v1h-1zM95 307h1v1h-1zM87 308h1v1h-1zM93 308h1v1h-1zM95 308h1v1h-1zM94 309h1v1h-1zM99 299h10v1h-10zM103 300h1v1h-1zM102 301h1v1h-1zM99 302h10v1h-10zM99 303h1v1h-1zM102 303h1v1h-1zM105 303h1v1h-1zM108 303h1v1h-1zM99 304h1v1h-1zM102 304h4v1h-4zM108 304h1v1h-1zM99 305h1v1h-1zM102 305h1v1h-1zM105 305h1v1h-1zM108 305h1v1h-1zM99 306h1v1h-1zM102 306h4v1h-4zM108 306h1v1h-1zM99 307h1v1h-1zM102 307h1v1h-1zM105 307h1v1h-1zM108 307h1v1h-1zM99 308h10v1h-10zM99 309h1v1h-1zM108 309h1v1h-1zM109 299h5v1h-5zM115 299h5v1h-5zM110 300h1v1h-1zM112 300h1v1h-1zM119 300h1v1h-1zM110 301h1v1h-1zM112 301h1v1h-1zM119 301h1v1h-1zM109 302h5v1h-5zM119 302h1v1h-1zM109 303h1v1h-1zM111 303h1v1h-1zM113 303h1v1h-1zM115 303h5v1h-5zM109 304h2v1h-2zM112 304h2v1h-2zM115 304h1v1h-1zM109 305h1v1h-1zM113 305h1v1h-1zM115 305h1v1h-1zM109 306h5v1h-5zM115 306h1v1h-1zM109 307h1v1h-1zM113 307h1v1h-1zM115 307h1v1h-1zM119 307h1v1h-1zM109 308h5v1h-5zM115 308h1v1h-1zM119 308h1v1h-1zM109 309h1v1h-1zM113 309h1v1h-1zM115 309h5v1h-5zM121 299h9v1h-9zM121 300h1v1h-1zM124 300h1v1h-1zM126 300h1v1h-1zM129 300h1v1h-1zM121 301h9v1h-9zM125 302h1v1h-1zM120 303h11v1h-11zM122 304h1v1h-1zM128 304h1v1h-1zM122 305h7v1h-7zM122 306h1v1h-1zM128 306h1v1h-1zM122 307h7v1h-7zM122 308h1v1h-1zM128 308h1v1h-1zM120 309h11v1h-11z" fill="#000" shape-rendering="crispEdges"/>
<path d="M10 317h5v1h-5zM16 317h5v1h-5zM13 318h1v1h-1zM18 318h1v1h-1zM11 319h2v1h-2zM16 319h5v1h-5zM12 320h1v1h-1zM16 320h1v1h-1zM20 320h1v1h-1zM10 321h5v1h-5zM16 321h1v1h-1zM18 321h1v1h-1zM20 321h1v1h-1zM12 322h1v1h-1zM14 322h1v1h-1zM16 322h1v1h-1zM18 322h1v1h-1zM20 322h1v1h-1zM12 323h1v1h-1zM16 323h1v1h-1zM18 323h1v1h-1zM20 323h1v1h-1zM12 324h1v1h-1zM16 324h1v1h-1zM18 324h1v1h-1zM20 324h1v1h-1zM12 325h1v1h-1zM16 325h1v1h-1zM18 325h1v1h-1zM20 325h1v1h-1zM12 326h1v1h-1zM17 326h1v1h-1zM19 326h1v1h-1zM11 327h2v1h-2zM15 327h2v1h-2zM20 327h1v1h-1zM24 317h1v1h-1zM28 317h1v1h-1zM22 318h5v1h-5zM28 318h1v1h-1zM30 318h1v1h-1zM24 319h1v1h-1zM28 319h1v1h-1zM31 319h1v1h-1zM21 320h11v1h-11zM23 321h1v1h-1zM28 321h1v1h-1zM21 322h6v1h-6zM28 322h1v1h-1zM31 322h1v1h-1zM22 323h1v1h-1zM24 323h1v1h-1zM28 323h1v1h-1zM30 323h1v1h-1zM22 324h5v1h-5zM29 324h1v1h-1zM24 325h1v1h-1zM29 325h1v1h-1zM31 325h1v1h-1zM21 326h6v1h-6zM28 326h1v1h-1zM30 326h2v1h-2zM24 327h1v1h-1zM27 327h1v1h-1zM31 327h1v1h-1zM35 317h1v1h-1zM39 317h1v1h-1zM32 318h11v1h-11zM35 319h1v1h-1zM39 319h1v1h-1zM34 320h1v1h-1zM36 320h7v1h-7zM34 321h1v1h-1zM41 321h1v1h-1zM33 322h2v1h-2zM36 322h4v1h-4zM41 322h1v1h-1zM32 323h1v1h-1zM34 323h1v1h-1zM36 323h1v1h-1zM39 323h1v1h-1zM41 323h1v1h-1zM34 324h1v1h-1zM36 324h1v1h-1zM39 324h1v1h-1zM41 324h1v1h-1zM34 325h1v1h-1zM36 325h4v1h-4zM41 325h1v1h-1zM34 326h1v1h-1zM41 326h1v1h-1zM34 327h1v1h-1zM39 327h3v1h-3zM44 317h1v1h-1zM49 317h1v1h-1zM44 318h4v1h-4zM49 318h5v1h-5zM43 319h1v1h-1zM46 319h1v1h-1zM48 319h1v1h-1zM51 319h1v1h-1zM44 320h9v1h-9zM48 321h1v1h-1zM43 322h11v1h-11zM50 323h1v1h-1zM44 324h9v1h-9zM46 325h1v1h-1zM50 325h1v1h-1zM47 326h1v1h-1zM50 326h1v1h-1zM49 327h2v1h-2zM56 317h1v1h-1zM58 317h6v1h-6zM56 318h1v1h-1zM60 318h1v1h-1zM63 318h1v1h-1zM55 319h1v1h-1zM58 319h1v1h-1zM60 319h1v1h-1zM63 319h1v1h-1zM55 320h1v1h-1zM57 320h1v1h-1zM60 320h1v1h-1zM62 320h1v1h-1zM54 321h3v1h-3zM60 321h1v1h-1zM62 321h3v1h-3zM56 322h1v1h-1zM60 322h1v1h-1zM64 322h1v1h-1zM55 323h1v1h-1zM60 323h1v1h-1zM64 323h1v1h-1zM54 324h4v1h-4zM59 324h1v1h-1zM61 324h1v1h-1zM63 324h1v1h-1zM58 325h2v1h-2zM62 325h1v1h-1zM56 326h2v1h-2zM59 326h1v1h-1zM61 326h1v1h-1zM63 326h1v1h-1zM54 327h2v1h-2zM58 327h1v1h-1zM60 327h1v1h-1zM64 327h1v1h-1z" fill="#000" shape-rendering="crispEdges"/>
<path d="M10 411h5v1h-5zM16 411h5v1h-5zM13 412h1v1h-1zM18 412h1v1h-1zM11 413h2v1h-2zM16 413h5v1h-5zM12 414h1v1h-1zM16 414h1v1h-1zM20 414h1v1h-1zM10 415h5v1h-5zM16 415h1v1h-1zM18 415h1v1h-1zM20 415h1v1h-1zM12 416h1v1h-1zM14 416h1v1h-1zM16 416h1v1h-1zM18 416h1v1h-1zM20 416h1v1h-1zM12 417h1v1h-1zM16 417h1v1h-1zM18 417h1v1h-1zM20 417h1v1h-1zM12 418h1v1h-1zM16 418h1v1h-1zM18 418h1v1h-1zM20 418h1v1h-1zM12 419h1v1h-1zM16 419h1v1h-1zM18 419h1v1h-1zM20 419h1v1h-1zM12 420h1v1h-1zM17 420h1v1h-1zM19 420h1v1h-1zM11 421h2v1h-2zM15 421h2v1h-2zM20 421h1v1h-1zM24 411h1v1h-1zM28 411h1v1h-1zM22 412h5v1h-5zM28 412h1v1h-1zM30 412h1v1h-1zM24 413h1v1h-1zM28 413h1v1h-1zM31 413h1v1h-1zM21 414h11v1h-11zM23 415h1v1h-1zM28 415h1v1h-1zM21 416h6v1h-6zM28 416h1v1h-1zM31 416h1v1h-1zM22 417h1v1h-1zM24 417h1v1h-1zM28 417h1v1h-1zM30 417h1v1h-1zM22 418h5v1h-5zM29 418h1v1h-1zM24 419h1v1h-1zM29 419h1v1h-1zM31 419h1v1h-1zM21 420h6v1h-6zM28 420h1v1h-1zM30 420h2v1h-2zM24 421h1v1h-1zM27 421h1v1h-1zM31 421h1v1h-1zM35 411h1v1h-1zM39 411h1v1h-1zM32 412h11v1h-11zM35 413h1v1h-1zM39 413h1v1h-1zM34 414h1v1h-1zM36 414h7v1h-7zM34 415h1v1h-1zM41 415h1v1h-1zM33 416h2v1h-2zM36 416h4v1h-4zM41 416h1v1h-1zM32 417h1v1h-1zM34 417h1v1h-1zM36 417h1v1h-1zM39 417h1v1h-1zM41 417h1v1h-1zM34 418h1v1h-1zM36 418h1v1h-1zM39 418h1v1h-1zM41 418h1v1h-1zM34 419h1v1h-1zM36 419h4v1h-4zM41 419h1v1h-1zM34 420h1v1h-1zM41 420h1v1h-1zM34 421h1v1h-1zM39 421h3v1h-3zM44 411h1v1h-1zM49 411h1v1h-1zM44 412h4v1h-4zM49 412h5v1h-5zM43 413h1v1h-1zM46 413h1v1h-1zM48 413h1v1h-1zM51 413h1v1h-1zM44 414h9v1h-9zM48 415h1v1h-1zM43 416h11v1h-11zM50 417h1v1h-1zM44 418h9v1h-9zM46 419h1v1h-1zM50 419h1v1h-1zM47 420h1v1h-1zM50 420h1v1h-1zM49 421h2v1h-2zM56 411h1v1h-1zM58 411h6v1h-6zM56 412h1v1h-1zM60 412h1v1h-1zM63 412h1v1h-1zM55 413h1v1h-1zM58 413h1v1h-1zM60 413h1v1h-1zM63 413h1v1h-1zM55 414h1v1h-1zM57 414h1v1h-1zM60 414h1v1h-1zM62 414h1v1h-1zM54 415h3v1h-3zM60 415h1v1h-1zM62 415h3v1h-3zM56 416h1v1h-1zM60 416h1v1h-1zM64 416h1v1h-1zM55 417h1v1h-1zM60 417h1v1h-1zM64 417h1v1h-1zM54 418h4v1h-4zM59 418h1v1h-1zM61 418h1v1h-1zM63 418h1v1h-1zM58 419h2v1h-2zM62 419h1v1h-1zM56 420h2v1h-2zM59 420h1v1h-1zM61 420h1v1h-1zM63 420h1v1h-1zM54 421h2v1h-2zM58 421h1v1h-1zM60 421h1v1h-1zM64 421h1v1h-1z" fill="#000" shape-rendering="crispEdges"/>
<path d="M231 281h2v1h-2zM237 281h2v1h-2zM232 282h2v1h-2zM237 282h2v1h-2zM237 283h2v1h-2zM234 284h8v1h-8zM230 285h4v1h-4zM237 285h2v1h-2zM232 286h2v1h-2zM237 286h2v1h-2zM232 287h2v1h-2zM237 287h2v1h-2zM232 288h4v1h-4zM237 288h2v1h-2zM232 289h3v1h-3zM237 289h2v1h-2zM232 290h2v1h-2zM237 290h2v1h-2zM237 291h2v1h-2zM243 281h11v1h-11zM243 282h4v1h-4zM248 282h2v1h-2zM251 282h2v1h-2zM242 283h10v1h-10zM244 284h2v1h-2zM250 284h2v1h-2zM244 285h8v1h-8zM244 286h2v1h-2zM250 286h2v1h-2zM244 287h8v1h-8zM245 288h2v1h-2zM249 288h2v1h-2zM242 289h12v1h-12zM245 290h2v1h-2zM249 290h2v1h-2zM243 291h3v1h-3zM249 291h2v1h-2zM261 281h4v1h-4zM255 282h7v1h-7zM258 283h2v1h-2zM262 283h2v1h-2zM256 284h7v1h-7zM259 285h2v1h-2zM258 286h2v1h-2zM262 286h2v1h-2zM255 287h10v1h-10zM259 288h2v1h-2zM263 288h2v1h-2zM257 289h6v1h-6zM256 290h2v1h-2zM259 290h2v1h-2zM262 290h2v1h-2zM255 291h2v1h-2zM258 291h3v1h-3zM263 291h2v1h-2zM266 281h2v1h-2zM269 281h6v1h-6zM267 282h5v1h-5zM273 282h2v1h-2zM266 283h12v1h-12zM268 284h3v1h-3zM272 284h5v1h-5zM267 285h5v1h-5zM273 285h4v1h-4zM266 286h2v1h-2zM269 286h8v1h-8zM266 287h11v1h-11zM268 288h4v1h-4zM273 288h4v1h-4zM267 289h5v1h-5zM274 289h2v1h-2zM269 290h2v1h-2zM273 290h4v1h-4zM266 291h8v1h-8zM276 291h2v1h-2z" fill="#000" shape-rendering="crispEdges"/>
</svg>
</body></html>
